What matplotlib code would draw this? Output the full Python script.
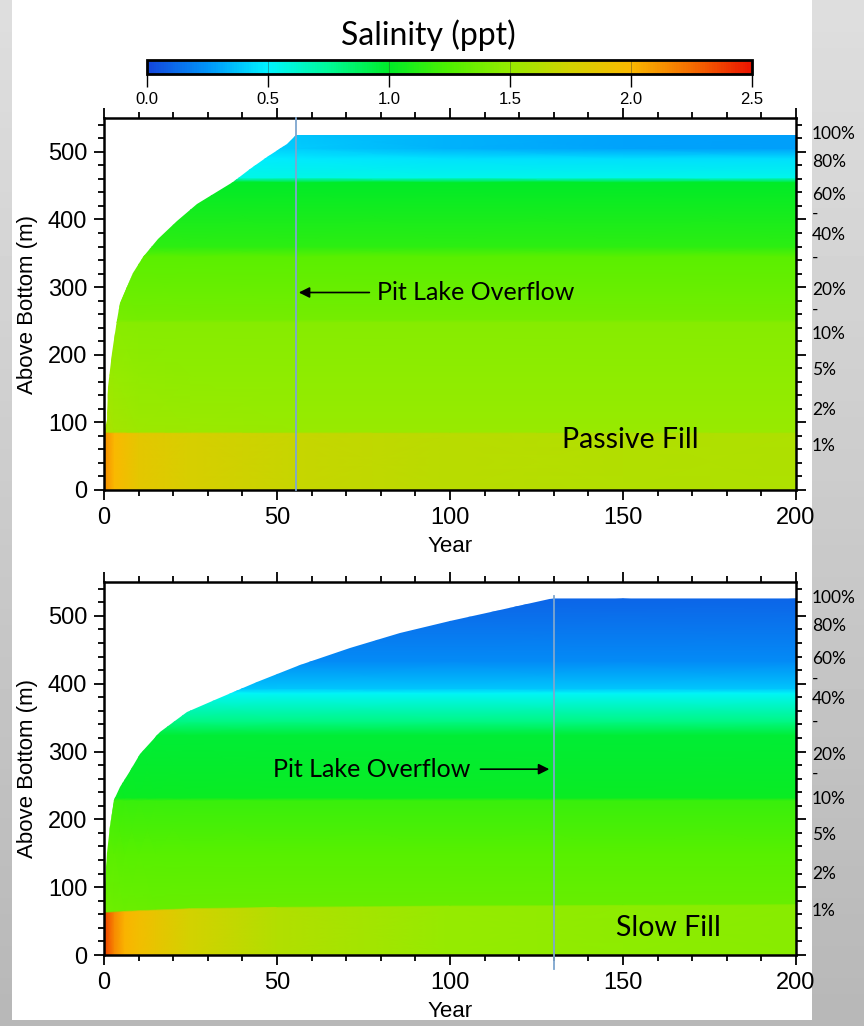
import numpy as np
import matplotlib
matplotlib.use('Agg')
import matplotlib.pyplot as plt
from matplotlib.colors import LinearSegmentedColormap, Normalize
from matplotlib.cm import ScalarMappable
from matplotlib.patches import PathPatch, Rectangle
from matplotlib.path import Path
from matplotlib.ticker import MultipleLocator
from matplotlib.transforms import blended_transform_factory

# salinity colour scale (ppt)
cmap_values = [0.0, 0.25, 0.5, 0.75, 1.0, 1.25, 1.5, 1.75, 2.0, 2.25, 2.5]
cmap_colors = ['#1446dc', '#0096fa', '#00f5ff', '#00fa96', '#00eb28', '#50f000',
               '#96eb00', '#d2d200', '#fab900', '#f56e00', '#eb1400']

# passive fill run
passive_years = [0, 3, 10, 25, 55, 100, 150, 200]
passive_levels = [0, 84, 86, 170, 248, 252, 345, 360, 455, 462, 490, 505, 525]
passive_sal = [
    [2.15, 2.00, 1.86, 1.78, 1.70, 1.65, 1.62, 1.60],
    [2.15, 2.00, 1.86, 1.78, 1.70, 1.65, 1.62, 1.60],
    [1.60, 1.56, 1.53, 1.52, 1.51, 1.51, 1.51, 1.51],
    [1.52, 1.50, 1.48, 1.47, 1.47, 1.47, 1.47, 1.47],
    [1.46, 1.45, 1.44, 1.44, 1.44, 1.44, 1.44, 1.44],
    [1.40, 1.39, 1.38, 1.38, 1.38, 1.38, 1.38, 1.38],
    [1.29, 1.28, 1.28, 1.28, 1.28, 1.28, 1.28, 1.28],
    [1.15, 1.14, 1.14, 1.14, 1.14, 1.14, 1.14, 1.14],
    [1.00, 1.00, 1.00, 1.00, 1.00, 1.00, 1.00, 1.00],
    [0.56, 0.56, 0.56, 0.56, 0.56, 0.55, 0.55, 0.55],
    [0.49, 0.49, 0.49, 0.49, 0.47, 0.45, 0.44, 0.44],
    [0.42, 0.42, 0.42, 0.42, 0.40, 0.33, 0.29, 0.28],
    [0.40, 0.40, 0.40, 0.40, 0.38, 0.33, 0.29, 0.28],
]
passive_surf_year = [0, 0, 0.4, 0.77, 1.25, 2.2, 3.7, 4.6, 8.5, 11.4, 15.7, 21, 26.8,
                     37.4, 42.2, 47, 52.8, 55.5, 200, 200]
passive_surf_level = [0, 84, 90, 104, 153, 203, 252, 277, 321, 344, 371, 398, 423,
                      455, 475, 492, 512, 525, 525, 0]
passive_overflow = 55.5

# slow fill run
slow_years = [0, 3, 6, 10, 15, 25, 50, 100, 150, 200]
slow_levels = [0, 62, 64, 150, 228, 232, 324, 344, 386, 393, 433, 507, 525]
slow_layer_top = [62, 63, 64, 65, 66, 68, 70, 72, 73, 74]
slow_sal = [
    [2.38, 2.15, 2.02, 1.95, 1.88, 1.75, 1.62, 1.50, 1.47, 1.45],
    [2.38, 2.15, 2.02, 1.95, 1.88, 1.75, 1.62, 1.50, 1.47, 1.45],
    [1.36, 1.35, 1.34, 1.34, 1.33, 1.33, 1.33, 1.33, 1.33, 1.33],
    [1.28, 1.28, 1.27, 1.27, 1.27, 1.27, 1.27, 1.27, 1.27, 1.27],
    [1.19, 1.19, 1.18, 1.18, 1.18, 1.18, 1.18, 1.18, 1.18, 1.18],
    [1.04, 1.04, 1.03, 1.03, 1.03, 1.03, 1.03, 1.03, 1.03, 1.03],
    [0.97, 0.97, 0.97, 0.97, 0.97, 0.97, 0.97, 0.97, 0.97, 0.97],
    [0.80, 0.80, 0.80, 0.80, 0.80, 0.80, 0.80, 0.80, 0.80, 0.80],
    [0.52, 0.52, 0.52, 0.52, 0.52, 0.52, 0.52, 0.52, 0.52, 0.52],
    [0.38, 0.38, 0.38, 0.38, 0.38, 0.38, 0.38, 0.38, 0.38, 0.38],
    [0.22, 0.22, 0.22, 0.22, 0.22, 0.22, 0.22, 0.22, 0.22, 0.22],
    [0.12, 0.12, 0.12, 0.12, 0.12, 0.12, 0.12, 0.12, 0.12, 0.12],
    [0.10, 0.10, 0.10, 0.10, 0.10, 0.10, 0.10, 0.10, 0.10, 0.10],
]
slow_surf_year = [0, 0, 0.3, 0.9, 1.6, 3.0, 4.6, 7.5, 10.4, 16.2, 23.9, 32.6, 44.1,
                  56.6, 71.1, 85.5, 100, 114.5, 130, 200, 200]
slow_surf_level = [0, 62, 100, 150, 190, 228, 248, 272, 297, 329, 359, 378, 403,
                   428, 452, 475, 492, 509, 526, 526, 0]
slow_overflow = 130

# volume fraction labels on the right
pct_labels = ['100%', '80%', '60%', '-', '40%', '-', '20%', '-', '10%', '5%', '2%', '1%']
pct_levels = [527, 485, 436, 408, 377, 344, 295, 267, 230, 177, 119, 65]

W, H = 864, 1026
fig = plt.figure(figsize=(W / 100, H / 100), dpi=100)
fig.patch.set_facecolor('#cfcfcf')

# grey backdrop with a white page on top
bg = fig.add_axes([0, 0, 1, 1], zorder=-10)
shade = np.linspace(0.87, 0.72, 64).reshape(-1, 1)
bg.imshow(np.repeat(shade, 2, axis=1), cmap='gray', vmin=0, vmax=1, aspect='auto', extent=[0, 1, 0, 1])
bg.add_patch(Rectangle((12 / W, 6 / H), 800 / W, 1 - 6 / H, facecolor='white', edgecolor='none'))
bg.set_xlim(0, 1)
bg.set_ylim(0, 1)
bg.axis('off')

cmap = LinearSegmentedColormap.from_list('sal', list(zip(np.array(cmap_values) / 2.5, cmap_colors)))
norm = Normalize(0, 2.5)

calibri = ['Lato', 'DejaVu Sans']
helv = ['Liberation Sans', 'DejaVu Sans']


def panel(ax, years, levels, sal, surf_x, surf_y, overflow, layer_top=None):
    X, Y = np.meshgrid(years, levels)
    Y = Y.astype(float)
    if layer_top is not None:
        Y[1] = layer_top
        Y[2] = np.array(layer_top) + 2
    mesh = ax.pcolormesh(X, Y, np.array(sal), cmap=cmap, norm=norm, shading='gouraud')
    clip = PathPatch(Path(np.column_stack([surf_x, surf_y])), facecolor='none',
                     edgecolor='none', transform=ax.transData)
    ax.add_patch(clip)
    mesh.set_clip_path(clip)

    ax.set_xlim(0, 200)
    ax.set_ylim(0, 550)
    ax.xaxis.set_major_locator(MultipleLocator(50))
    ax.xaxis.set_minor_locator(MultipleLocator(10))
    ax.yaxis.set_major_locator(MultipleLocator(100))
    ax.yaxis.set_minor_locator(MultipleLocator(20))
    ax.tick_params(which='both', direction='out', top=True, right=True, width=1.3,
                   labelsize=17, colors='black')
    ax.tick_params(which='major', length=7, pad=5)
    ax.tick_params(which='minor', length=4)
    for lab in ax.get_xticklabels() + ax.get_yticklabels():
        lab.set_family(helv)
    for sp in ax.spines.values():
        sp.set_linewidth(1.8)
    ax.set_xlabel('Year', fontsize=16, family=helv, labelpad=5)
    ax.set_ylabel('Above Bottom (m)', fontsize=16, family=helv, labelpad=7)
    ax.set_facecolor('white')

    ax.plot([overflow, overflow], [-20, 530] if overflow > 100 else [0, 550],
            color='#7ea6cf', lw=1.3, clip_on=False, zorder=3)

    tr = blended_transform_factory(fig.transFigure, ax.transData)
    for lab, lev in zip(pct_labels, pct_levels):
        ax.text(812 / W, lev, lab, transform=tr, ha='left', va='center',
                fontsize=12.5, family=calibri, clip_on=False)


ax1 = fig.add_axes([104 / W, 1 - 490 / H, 692 / W, 372 / H])
panel(ax1, passive_years, passive_levels, passive_sal,
      passive_surf_year, passive_surf_level, passive_overflow)
ax1.annotate('', xy=(passive_overflow, 292), xytext=(77.5, 292),
             arrowprops=dict(arrowstyle='-|>', color='black', lw=1.2, mutation_scale=16))
ax1.text(79, 292, 'Pit Lake Overflow', ha='left', va='center', fontsize=18, family=calibri)
ax1.text(152, 74, 'Passive Fill', ha='center', va='center', fontsize=20.5, family=calibri)

ax2 = fig.add_axes([104 / W, 1 - 955 / H, 692 / W, 373 / H])
panel(ax2, slow_years, slow_levels, slow_sal,
      slow_surf_year, slow_surf_level, slow_overflow, layer_top=slow_layer_top)
ax2.annotate('', xy=(slow_overflow - 0.5, 274), xytext=(108, 274),
             arrowprops=dict(arrowstyle='-|>', color='black', lw=1.2, mutation_scale=16))
ax2.text(106, 274, 'Pit Lake Overflow', ha='right', va='center', fontsize=18, family=calibri)
ax2.text(163, 40, 'Slow Fill', ha='center', va='center', fontsize=20.5, family=calibri)

# colour bar
cax = fig.add_axes([147 / W, 1 - 74 / H, 605 / W, 14 / H])
cb = fig.colorbar(ScalarMappable(norm=norm, cmap=cmap), cax=cax, orientation='horizontal',
                  ticks=[0, 0.5, 1.0, 1.5, 2.0, 2.5])
cb.ax.set_xticklabels(['0.0', '0.5', '1.0', '1.5', '2.0', '2.5'], family=helv, fontsize=12)
cb.ax.tick_params(direction='out', length=9, width=1, pad=4)
cb.outline.set_linewidth(2)
for v in [0.5, 1.0, 1.5, 2.0]:
    cax.axvline(v, color='#333333', lw=0.7, alpha=0.4)
fig.text(428 / W, 1 - 35 / H, 'Salinity (ppt)', ha='center', va='center',
         fontsize=23, family=calibri)

fig.savefig('out.png', dpi=100)
